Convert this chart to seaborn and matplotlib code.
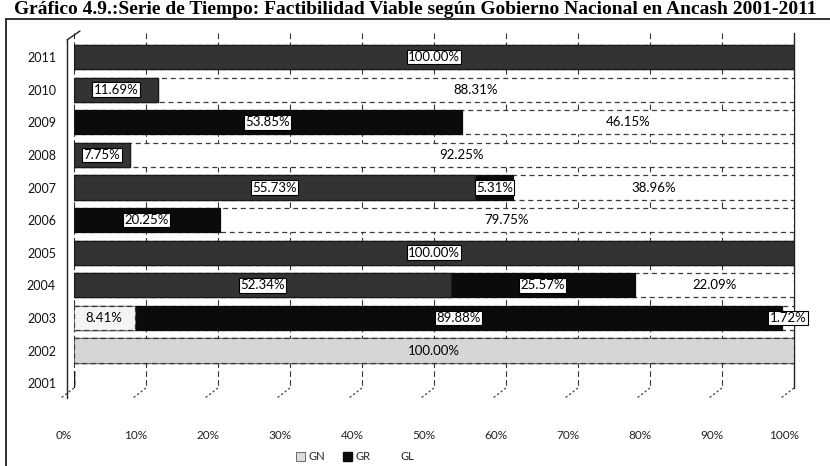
import matplotlib
matplotlib.use("Agg")
import matplotlib.pyplot as plt
from matplotlib.lines import Line2D
from matplotlib.patches import Patch
from matplotlib.transforms import ScaledTranslation
import seaborn as sns
import pandas as pd

# ---- data -------------------------------------------------------------
years = ["2011", "2010", "2009", "2008", "2007", "2006",
         "2005", "2004", "2003", "2002", "2001"]
gn = [100.00, 11.69, 0.00, 7.75, 55.73, 0.00, 100.00, 52.34, 8.41, 100.00, 0.00]
gr = [0.00, 0.00, 53.85, 0.00, 5.31, 20.25, 0.00, 25.57, 89.88, 0.00, 0.00]
gl = [0.00, 88.31, 46.15, 92.25, 38.96, 79.75, 0.00, 22.09, 1.72, 0.00, 0.00]
series = ["GN", "GR", "GL"]
xticks = list(range(0, 101, 10))
xticklabels = [f"{t}%" for t in xticks]

title = ("Gráfico 4.9.:Serie de Tiempo: Factibilidad Viable según "
         "Gobierno Nacional en Ancash 2001-2011")

# ---- style ------------------------------------------------------------
sns.set_theme(style="white")
plt.rcParams["font.family"] = ["Lato", "DejaVu Sans"]

W, H, DPI = 830, 466, 100
fig = plt.figure(figsize=(W / DPI, H / DPI), dpi=DPI)
fig.patch.set_facecolor("white")

def px_axes(left, top, right, bottom):
    return [left / W, 1 - bottom / H, (right - left) / W, (bottom - top) / H]

ax = fig.add_axes(px_axes(74, 33, 794, 388))

COL_GN = "#333333"
COL_GR = "#0b0b0b"
COL_GL = "#ffffff"
# lighter tone of the GN band in the earliest years
gn_tone = {"2002": "#d6d6d6", "2003": "#f4f4f4"}

df = pd.DataFrame({"year": years, "GN": gn, "GR": gr, "GL": gl})
df["c1"] = df["GN"]
df["c2"] = df["GN"] + df["GR"]
df["c3"] = df["GN"] + df["GR"] + df["GL"]

bar_w = 0.74
# stacked look: draw cumulative totals back to front
sns.barplot(data=df, y="year", x="c3", order=years, orient="h", color=COL_GL,
            saturation=1, width=bar_w, edgecolor="#3a3a3a", linewidth=0.9,
            linestyle=(0, (4, 3)), errorbar=None, ax=ax, zorder=3)
sns.barplot(data=df, y="year", x="c2", order=years, orient="h", color=COL_GR,
            saturation=1, width=bar_w, edgecolor=COL_GR, linewidth=0.9,
            errorbar=None, ax=ax, zorder=4)
sns.barplot(data=df, y="year", x="c1", order=years, orient="h", color=COL_GN,
            saturation=1, width=bar_w, edgecolor="#1a1a1a", linewidth=0.9,
            errorbar=None, ax=ax, zorder=5)
for yr, patch in zip(years, ax.containers[-1]):
    if yr in gn_tone:
        patch.set_facecolor(gn_tone[yr])
        patch.set_edgecolor("#3a3a3a")
        patch.set_linestyle((0, (4, 3)))

# ---- value labels -----------------------------------------------------
for i, yr in enumerate(years):
    start = 0.0
    for name, vals, dark in (("GN", gn, yr not in gn_tone), ("GR", gr, True),
                             ("GL", gl, False)):
        v = vals[i]
        if v > 0:
            cx = start + v / 2
            boxed = dark or v < 5
            ax.text(cx, i, f"{v:.2f}%", ha="center", va="center",
                    fontsize=9.5, color="black", zorder=8,
                    bbox=(dict(boxstyle="square,pad=0.1", fc="white",
                               ec="black", lw=0.8) if boxed else None))
        start += v

# ---- axes -------------------------------------------------------------
ax.set_xlim(0, 100)
ax.set_ylim(10.15, -0.74)
ax.set_xlabel("")
ax.set_ylabel("")
ax.set_xticks(xticks)
ax.set_xticklabels(xticklabels, fontsize=8.5, color="#222222")
ax.tick_params(axis="x", length=0, pad=30)
ax.tick_params(axis="y", length=0, pad=13, labelsize=9, colors="#111111")
shift = ScaledTranslation(-10 / DPI, 0, fig.dpi_scale_trans)
for lab in ax.get_xticklabels():
    lab.set_transform(lab.get_transform() + shift)
for s in ax.spines.values():
    s.set_visible(False)

# back-wall gridlines with the floor edges running forward
dx, dy = 13 / 720 * 100, 10 / 32.6
for t in xticks:
    solid = t == 100
    ax.plot([t, t], [-0.74, 10.15], color="#222222" if solid else "#333333",
            lw=1.0 if solid else 0.8, ls="-" if solid else (0, (5, 3)),
            zorder=1, clip_on=False)
    ax.plot([t, t - dx], [10.15, 10.15 + dy], color="#333333", lw=0.8,
            ls=(0, (2, 2)), zorder=1, clip_on=False)

# left wall of the box
fig.add_artist(Line2D([67 / W, 67 / W], [1 - 40 / H, 1 - 398 / H],
                      color="#222222", lw=1.0))
fig.add_artist(Line2D([67 / W, 80 / W], [1 - 40 / H, 1 - 31 / H],
                      color="#222222", lw=1.0))

# outer frame
fig.add_artist(Line2D([6 / W, 1.0], [1 - 19 / H, 1 - 19 / H],
                      color="#222222", lw=1.3))
fig.add_artist(Line2D([6 / W, 6 / W], [1 - 19 / H, 0.0],
                      color="#222222", lw=1.3))

# title
fig.text(0.5, 1 - 14 / H, title, fontsize=14, fontweight="bold",
         family=["Liberation Serif", "DejaVu Serif"], ha="center",
         va="baseline", color="black")

# legend
handles = [Patch(facecolor="#dddddd", edgecolor="#555555", lw=0.6),
           Patch(facecolor=COL_GR, edgecolor=COL_GR),
           Patch(facecolor="white", edgecolor="white")]
fig.legend(handles, series, loc="center", bbox_to_anchor=(355 / W, 1 - 457 / H),
           ncol=3, frameon=False, fontsize=8, handlelength=0.8,
           handleheight=0.8, handletextpad=0.3, columnspacing=1.6)

fig.savefig("out.png", dpi=DPI, facecolor="white")
